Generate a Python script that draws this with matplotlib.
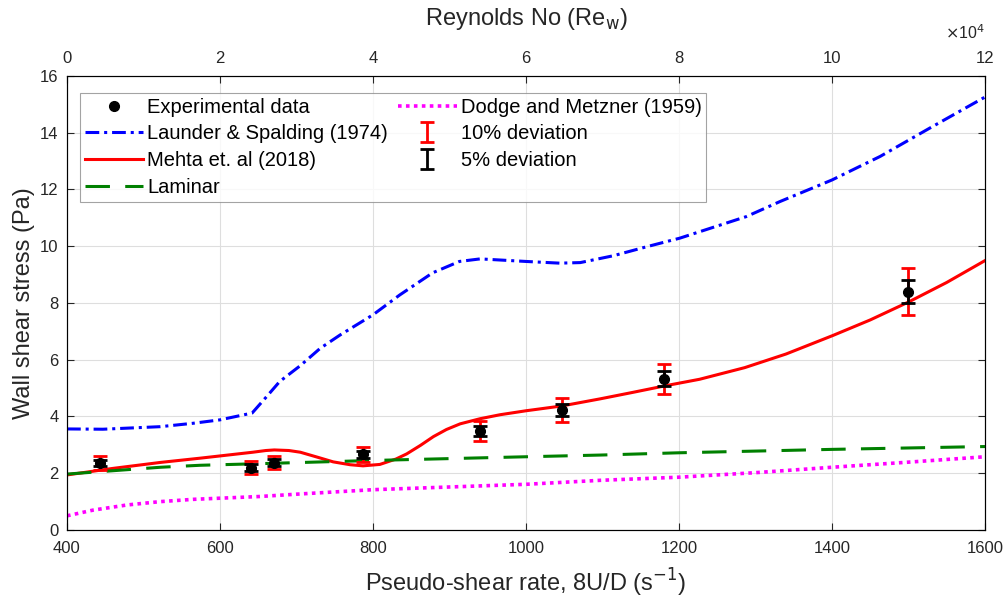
import matplotlib
matplotlib.use("Agg")
import matplotlib.pyplot as plt

plt.rcParams["font.family"] = ["Liberation Sans", "DejaVu Sans"]

# experimental data
exp_rate = [443, 640, 671, 787, 940, 1047, 1181, 1500]
exp_stress = [2.36, 2.2, 2.37, 2.66, 3.49, 4.22, 5.33, 8.40]

# Launder & Spalding (1974)
ls_rate = [400, 447, 522, 565, 600, 642, 661, 678, 705, 731, 757, 800, 835,
           878, 913, 940, 1000, 1044, 1071, 1114, 1158, 1201, 1288, 1332,
           1400, 1463, 1528, 1600]
ls_stress = [3.56, 3.55, 3.64, 3.76, 3.88, 4.12, 4.7, 5.23, 5.79, 6.40, 6.87,
             7.58, 8.28, 9.06, 9.46, 9.55, 9.46, 9.40, 9.42, 9.66, 9.98,
             10.28, 11.04, 11.57, 12.33, 13.16, 14.16, 15.25]

# Mehta et. al (2018)
mehta_rate = [400, 460, 522, 574, 620, 643, 660, 671, 690, 705, 728, 748, 770,
              787, 809, 830, 844, 862, 879, 896, 914, 940, 966, 1000, 1047,
              1097, 1140, 1182, 1227, 1286, 1340, 1401, 1450, 1500, 1550, 1600]
mehta_stress = [1.94, 2.17, 2.38, 2.53, 2.67, 2.74, 2.80, 2.82, 2.80, 2.74,
                2.56, 2.40, 2.30, 2.26, 2.31, 2.50, 2.68, 2.98, 3.29, 3.54,
                3.74, 3.92, 4.06, 4.20, 4.37, 4.62, 4.85, 5.08, 5.31, 5.72,
                6.20, 6.85, 7.40, 8.03, 8.72, 9.49]

# Laminar
lam_rate = [400, 522, 574, 643, 800, 1000, 1097, 1200, 1400, 1600]
lam_stress = [1.97, 2.21, 2.28, 2.33, 2.45, 2.58, 2.64, 2.72, 2.84, 2.94]

# Dodge and Metzner (1959)
dm_rate = [400, 434, 478, 522, 565, 600, 652, 705, 800, 1000, 1097, 1200,
           1300, 1400, 1500, 1600]
dm_stress = [0.50, 0.70, 0.88, 1.0, 1.08, 1.12, 1.18, 1.27, 1.42, 1.61, 1.75,
             1.86, 2.02, 2.21, 2.39, 2.58]

err10 = [0.10 * v for v in exp_stress]
err5 = [0.05 * v for v in exp_stress]

re_ticks = [0, 2, 4, 6, 8, 10, 12]

axis_color = "#262626"

fig = plt.figure(figsize=(10.06, 6.02), dpi=100)
ax = fig.add_axes([0.0666, 0.1196, 0.9125, 0.7545])

ax.grid(True, color="#dedede", linewidth=0.8)
ax.set_axisbelow(True)

ls_line, = ax.plot(ls_rate, ls_stress, color="blue", linestyle=(0, (4.5, 1.6, 1, 1.6)),
                   linewidth=2.2, label="Launder & Spalding (1974)")
mehta_line, = ax.plot(mehta_rate, mehta_stress, color="red", linewidth=2.2,
                      label="Mehta et. al (2018)")
lam_line, = ax.plot(lam_rate, lam_stress, color="green", linestyle=(0, (8, 5)),
                    linewidth=2.2, label="Laminar")
dm_line, = ax.plot(dm_rate, dm_stress, color="magenta", linestyle=(0, (1, 1.2)),
                   linewidth=2.6, label="Dodge and Metzner (1959)")

e10 = ax.errorbar(exp_rate, exp_stress, yerr=err10, fmt="none", ecolor="red",
                  elinewidth=2, capsize=5, capthick=2, label="10% deviation")
e5 = ax.errorbar(exp_rate, exp_stress, yerr=err5, fmt="none", ecolor="black",
                 elinewidth=2, capsize=5, capthick=2, label="5% deviation")
exp_pts, = ax.plot(exp_rate, exp_stress, "o", color="black", markersize=7,
                   label="Experimental data", zorder=5)

ax.set_xlim(400, 1600)
ax.set_ylim(0, 16)
ax.set_xticks([400, 600, 800, 1000, 1200, 1400, 1600])
ax.set_yticks(range(0, 17, 2))
ax.tick_params(direction="in", length=5, labelsize=12, colors=axis_color,
               right=True)
ax.tick_params(axis="x", pad=8)
ax.tick_params(axis="y", pad=6)
for s in ax.spines.values():
    s.set_color(axis_color)

ax.set_xlabel("Pseudo-shear rate, 8U/D (s$^{-1}$)", fontsize=17, color=axis_color)
ax.xaxis.set_label_coords(0.5, -0.117)
ax.xaxis.label.set_va("center")
ax.set_ylabel("Wall shear stress (Pa)", fontsize=17, color=axis_color)
ax.yaxis.set_label_coords(-0.047, 0.5)
ax.yaxis.label.set_va("center")

ax2 = ax.twiny()
ax2.set_xlim(0, 12)
ax2.set_xticks(re_ticks)
ax2.set_xticklabels([str(t) for t in re_ticks])
ax2.tick_params(direction="in", length=5, labelsize=12, colors=axis_color, pad=7)
ax2.set_xlabel("Reynolds No (Re$_\\mathrm{w}$)", fontsize=17, color=axis_color)
ax2.xaxis.set_label_coords(0.5, 1.125)
ax2.xaxis.label.set_va("center")
ax2.text(1.0, 1.095, "$\\times$10$^4$", transform=ax2.transAxes, ha="right",
         va="center", fontsize=11.5, color=axis_color)

handles = [exp_pts, ls_line, mehta_line, lam_line, dm_line, e10, e5]
labels = [h.get_label() for h in handles]
leg = ax.legend(handles, labels, ncol=2, loc="upper left",
                bbox_to_anchor=(0.014, 0.963), fontsize=14.5, handlelength=2.9,
                numpoints=1, frameon=True, fancybox=False, borderpad=0.25,
                labelspacing=0.38, columnspacing=0.5, handletextpad=0.2,
                borderaxespad=0)
leg.get_frame().set_edgecolor("#8c8c8c")
leg.get_frame().set_linewidth(0.8)

fig.savefig("out.png", dpi=100)
